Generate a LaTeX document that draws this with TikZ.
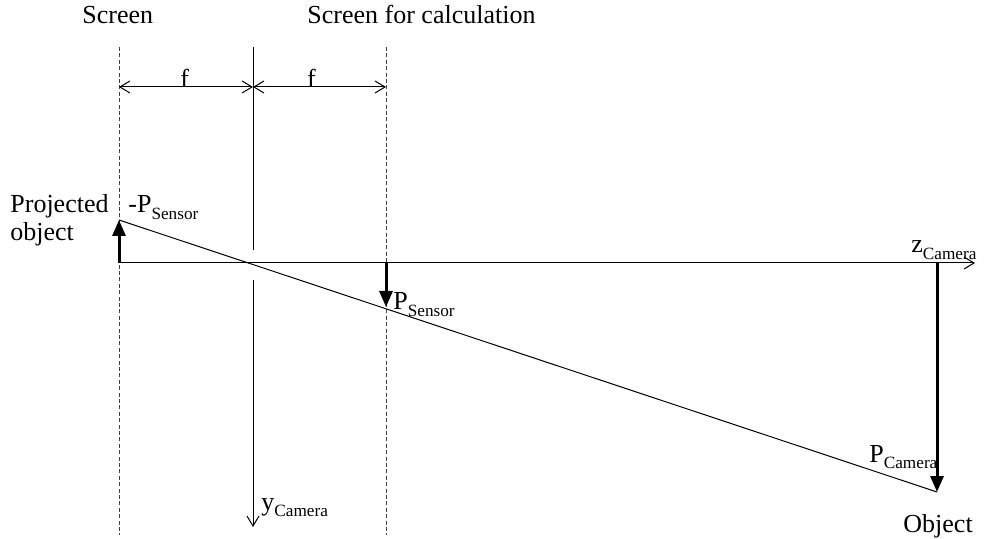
\documentclass[tikz,border=0pt]{standalone}
\usepackage{fontspec}
\setmainfont{Liberation Serif}
\usetikzlibrary{arrows.meta}
\newcommand\subtxt[1]{\raisebox{-3.4pt}{\fontsize{8.6}{10}\selectfont #1}}
\begin{document}
\begin{tikzpicture}[x=0.5pt,y=-0.5pt,
  thin line/.style={line width=0.5pt,black},
  dashline/.style={line width=0.5pt,black!75,dash pattern=on 2pt off 1.2pt},
  dimarrow/.style={line width=0.5pt,{Straight Barb[length=5pt,width=6pt]}-{Straight Barb[length=5pt,width=6pt]}},
  axarrow/.style={line width=0.5pt,-{Straight Barb[length=5pt,width=6pt]}},
  thickarrow/.style={line width=1.5pt,-{Triangle[length=8pt,width=6.5pt]}},
  lbl/.style={anchor=base west,inner sep=0pt,font=\fontsize{13}{15}\selectfont},
  flbl/.style={anchor=south,inner sep=0pt,yshift=-0.6pt,font=\fontsize{13}{15}\selectfont}]
\useasboundingbox (0,0) rectangle (984,539);
% geometry points
\coordinate (sTop) at (119,47);
\coordinate (sBot) at (119,535);
\coordinate (cTop) at (386,47);
\coordinate (cBot) at (386,535);
\coordinate (pTop) at (253,47);
\coordinate (pGapA) at (253,250);
\coordinate (pGapB) at (253,280);
\coordinate (pBot) at (253,527);
\coordinate (dL) at (119,87);
\coordinate (dM) at (253,87);
\coordinate (dR) at (386,87);
\coordinate (axS) at (119,263);
\coordinate (axE) at (975,263);
\coordinate (projTip) at (119,220);
\coordinate (sensB) at (386,263);
\coordinate (sensTip) at (386,307);
\coordinate (objB) at (937,263);
\coordinate (objTip) at (937,492);
% screens
\draw[dashline] (sTop) -- (sBot);
\draw[dashline] (cTop) -- (cBot);
% pinhole / y axis
\draw[thin line] (pTop) -- (pGapA);
\draw[thin line,axarrow] (pGapB) -- (pBot);
% dimension arrows
\draw[dimarrow] (dL) -- node[flbl,pos=0.49] (f1) {f} (dM);
\draw[dimarrow] (dM) -- node[flbl,pos=0.44] (f2) {f} (dR);
% z axis
\draw[axarrow] (axS) -- (axE);
% ray
\draw[thin line] (projTip) -- (objTip);
% thick arrows
\draw[thickarrow] (axS) -- (projTip);
\draw[thickarrow] (sensB) -- (sensTip);
\draw[thickarrow] (objB) -- (objTip);
% labels
\node[lbl] (screen) at (82,24) {Screen};
\node[lbl] (screencalc) at (307,24) {Screen for calculation};
\node[lbl] (proj) at (10,213) {Projected};
\node[lbl] (projobj) at (10,241) {object};
\node[lbl] (mps) at (128,213) {-P\subtxt{Sensor}};
\node[lbl] (ps) at (393,310) {P\subtxt{Sensor}};
\node[lbl] (zc) at (911,253) {z\subtxt{Camera}};
\node[lbl] (pc) at (869,462) {P\subtxt{Camera}};
\node[lbl] (obj) at (903,532) {Object};
\node[lbl] (yc) at (261,510) {y\subtxt{Camera}};
\end{tikzpicture}
\end{document}
